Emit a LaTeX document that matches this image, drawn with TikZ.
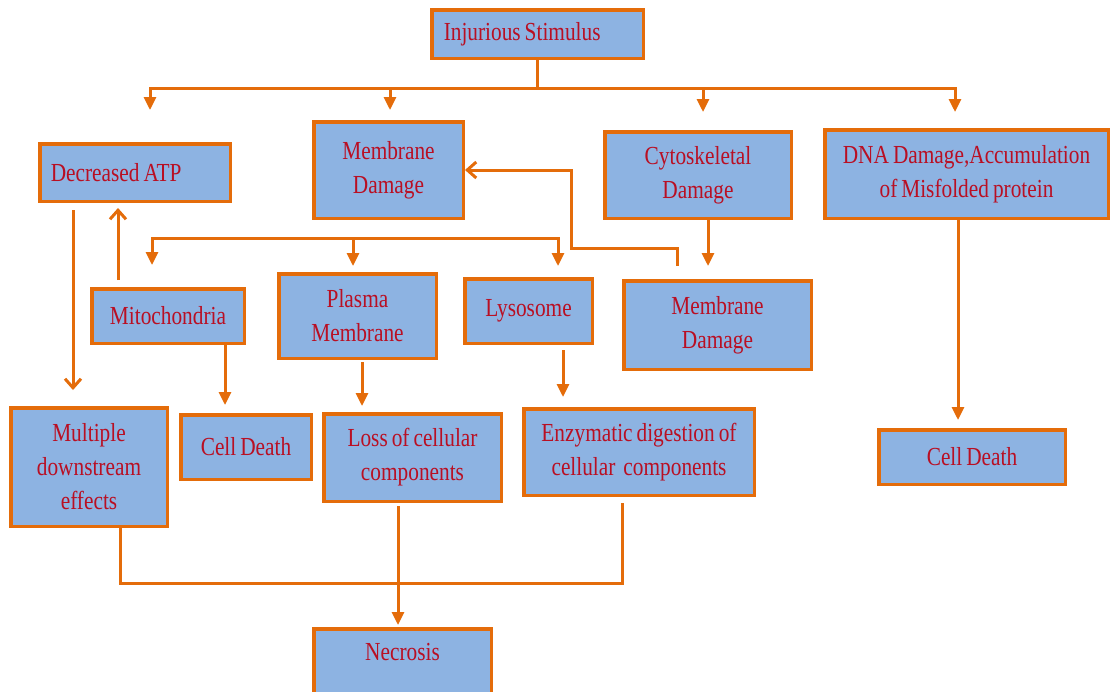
\documentclass[tikz,border=0pt]{standalone}
\usepackage{fontspec}
\setmainfont{Liberation Serif}[FakeStretch=0.82]
\usetikzlibrary{arrows.meta}
\definecolor{boxfill}{RGB}{141,179,226}
\definecolor{boxline}{RGB}{228,108,10}
\definecolor{boxtext}{RGB}{185,15,35}
\newcommand{\boxfont}{\fontsize{26}{34}\selectfont}
\tikzset{
  box/.style={draw=boxline, fill=boxfill, line width=3.5pt, text=boxtext,
    font=\boxfont, align=center, inner sep=4pt,
    execute at begin node={\spaceskip=4pt plus 1pt\relax}},
  link/.style={draw=boxline, line width=3pt},
  arr/.style={link, -{Triangle[width=12pt,length=13pt]}},
  oarr/.style={link, -{Straight Barb[width=16pt,length=9pt]}},
}
\begin{document}
\begin{tikzpicture}[x=1pt,y=-1pt]
\useasboundingbox (0,0) rectangle (1110,691);

% top level
\node[box, inner xsep=12pt, text width=187.5pt, align=left, minimum height=48.5pt] (inj) at (537.5,34) {Injurious Stimulus};

% first row of effects
\node[box, inner xsep=11pt, text width=168.5pt, align=left, minimum height=57.5pt] (atp) at (135,172.5) {Decreased ATP};
\node[box, minimum width=149.5pt, minimum height=96.5pt] (mem1) at (388.5,170) {Membrane\\Damage};
\node[box, minimum width=186.5pt, minimum height=86.5pt] (cyto) at (698,175) {Cytoskeletal\\Damage};
\node[box, minimum width=283.5pt, minimum height=88.5pt] (dna) at (966.5,174) {DNA Damage,Accumulation\\of Misfolded protein};

% organelles
\node[box, minimum width=152.5pt, minimum height=54.5pt] (mito) at (168,316) {Mitochondria};
\node[box, minimum width=157.5pt, minimum height=84.5pt] (plasma) at (357.5,316) {Plasma\\Membrane};
\node[box, minimum width=127.5pt, minimum height=64.5pt] (lyso) at (528.5,311) {Lysosome};
\node[box, minimum width=187.5pt, minimum height=88.5pt] (mem2) at (717.5,325) {Membrane\\Damage};

% consequences
\node[box, minimum width=156.5pt, minimum height=118.5pt] (multi) at (89,467) {Multiple\\downstream\\effects};
\node[box, minimum width=130.5pt, minimum height=64.5pt] (cd1) at (246,447) {Cell Death};
\node[box, minimum width=177.5pt, minimum height=87.5pt] (loss) at (412.5,457.5) {Loss of cellular\\components};
\node[box, minimum width=230.5pt, minimum height=86.5pt] (enz) at (639,452) {Enzymatic digestion of\\cellular\hspace{8pt}components};
\node[box, minimum width=186.5pt, minimum height=54.5pt] (cd2) at (972,457) {Cell Death};
\node[box, minimum width=177.5pt, minimum height=69.5pt, text height=18pt, text depth=24pt] (nec) at (402.5,663.5) {Necrosis};

% branching from the stimulus
\coordinate (bus) at (537.5,88);
\draw[link] (inj.south) -- (bus);
\draw[arr, shorten >=32pt] (bus) -| ([xshift=15pt]atp.north);
\draw[arr, shorten >=10pt] (bus) -| ([xshift=1.5pt]mem1.north);
\draw[arr, shorten >=18pt] (bus) -| ([xshift=5pt]cyto.north);
\draw[arr, shorten >=16pt] (bus) -| ([xshift=-11.5pt]dna.north);

% organelle branch
\coordinate (bus2) at (353,238);
\draw[link] (bus2) -- ++(-201,0);
\draw[arr, shorten >=22pt] (bus2) -| ([xshift=-16pt]mito.north);
\draw[arr, shorten >=6pt] (bus2) -- (bus2 |- plasma.north);
\draw[arr, shorten >=11pt] (bus2) -| ([xshift=29.5pt]lyso.north);

% feedback links
\draw[oarr, shorten <=7pt, shorten >=5pt] ([xshift=-50pt]mito.north) -- ([xshift=-50pt]mito.north |- atp.south);
\draw[oarr, shorten <=7pt, shorten >=16pt] ([xshift=-62pt]atp.south) -- ([xshift=-62pt]atp.south |- multi.north);
\draw[oarr] ([xshift=-40.5pt,yshift=13pt]mem2.north) |- ++(-106,-18) |- (mem1.east);
\draw[arr, shorten >=13pt] ([xshift=10pt]cyto.south) -- ([xshift=10pt]cyto.south |- mem2.north);

% downstream
\draw[arr, shorten >=8pt] ([xshift=57pt]mito.south) -- ([xshift=57pt]mito.south |- cd1.north);
\draw[arr, shorten <=2pt, shorten >=6pt] ([xshift=4.5pt]plasma.south) -- ([xshift=4.5pt]plasma.south |- loss.north);
\draw[arr, shorten <=5pt, shorten >=10pt] ([xshift=34.5pt]lyso.south) -- ([xshift=34.5pt]lyso.south |- enz.north);
\draw[arr, shorten >=8pt] ([xshift=-8.5pt]dna.south) -- ([xshift=-8.5pt]dna.south |- cd2.north);

% collection into necrosis
\draw[link, shorten >=6pt] ([xshift=31pt]multi.south) -- ++(0,55) -| ([xshift=-17pt]enz.south);
\draw[arr, shorten <=3pt, shorten >=2pt] ([xshift=-14.5pt]loss.south) -- ([xshift=-14.5pt]loss.south |- nec.north);
\end{tikzpicture}
\end{document}
